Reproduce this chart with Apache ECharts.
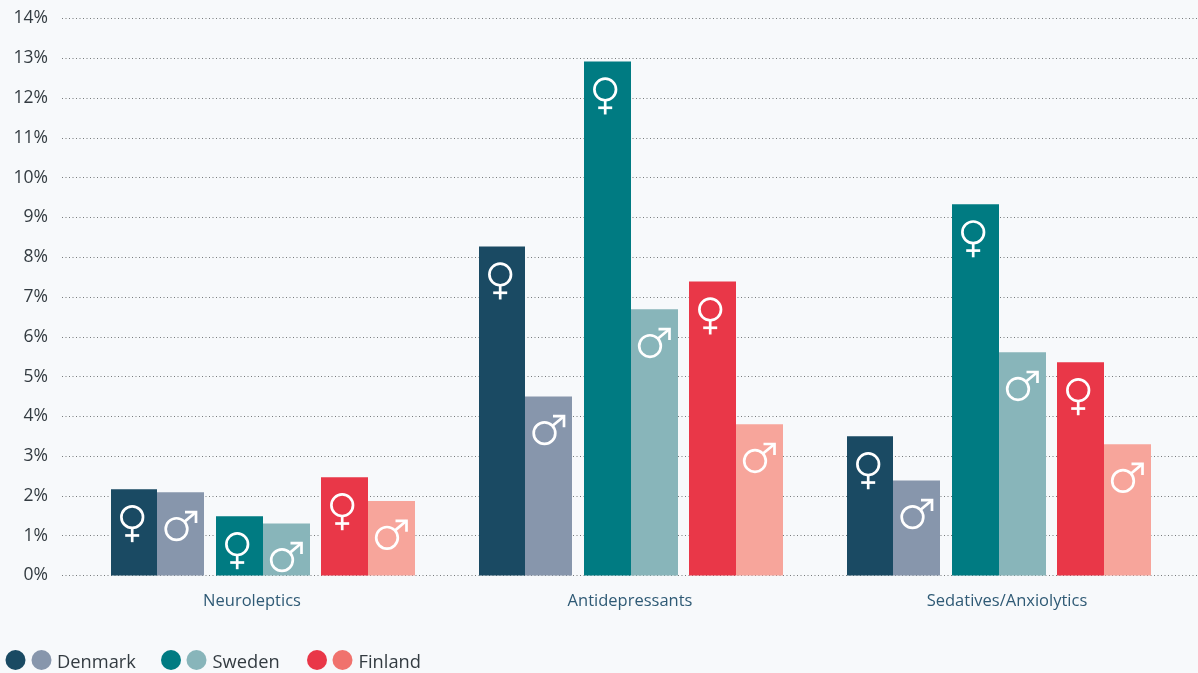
<!DOCTYPE html>
<html><head><meta charset="utf-8">
<style>html,body{margin:0;padding:0;background:#f7f9fb}#c{width:1198px;height:673px}</style>
<script src="https://cdn.jsdelivr.net/npm/echarts@6/dist/echarts.min.js"></script></head>
<body><div id="c"></div><script>
const categories = ['Neuroleptics','Antidepressants','Sedatives/Anxiolytics'];
const denmarkFemale = [2.17, 8.27, 3.5];
const denmarkMale = [2.09, 4.5, 2.39];
const swedenFemale = [1.49, 12.92, 9.33];
const swedenMale = [1.31, 6.69, 5.61];
const finlandFemale = [2.47, 7.39, 5.36];
const finlandMale = [1.87, 3.8, 3.3];
const yTicks = [0,1,2,3,4,5,6,7,8,9,10,11,12,13,14];
const countries = ['Denmark','Sweden','Finland'];

const font = '"Open Sans", "Noto Sans", sans-serif';
const colors = ['#1a4a63','#8796ac','#007b82','#88b5ba','#e93748','#f7a59b'];
const legendColors = ['#1a4a63','#8796ac','#007b82','#88b5ba','#e93748','#f0726d'];
const barW = 47;
const rows = [denmarkFemale, denmarkMale, swedenFemale, swedenMale, finlandFemale, finlandMale];
const offsets = [-129, -82.5, -24, 23, 81, 128];

function bar(name, data, i, w){
  return {type:'bar', name, data, xAxisIndex:1, yAxisIndex:1, barWidth:w || barW, barGap:0,
    itemStyle:{color:colors[i]}, silent:true, z:2};
}
function spacer(w){
  return {type:'bar', data:[null,null,null], xAxisIndex:1, yAxisIndex:1, barWidth:w, barGap:0, silent:true};
}
function iconSeries(data, i){
  const female = i % 2 === 0;
  return {type:'custom', xAxisIndex:1, yAxisIndex:1, z:5, silent:true, clip:false,
    encode:{x:0,y:1},
    data:data.map((v,k)=>[k,v]),
    renderItem(params, api){
      const p = api.coord([api.value(0), api.value(1)]);
      const x = p[0] + offsets[i], y = p[1];
      const st = {stroke:'#fff', lineWidth:2.7, fill:null};
      const line = (a,b,c,d)=>({type:'line', shape:{x1:a,y1:b,x2:c,y2:d}, style:st});
      if (female) {
        const cx = x - 1.8, cy = y + 28;
        return {type:'group', children:[
          {type:'circle', shape:{cx, cy, r:10.8}, style:st},
          line(cx, cy+10.8, cx, cy+25),
          line(cx-7, cy+18.3, cx+7, cy+18.3)
        ]};
      }
      const cx = x - 4, cy = y + 36.7;
      const tx = cx + 19.5, ty = cy - 17;
      return {type:'group', children:[
        {type:'circle', shape:{cx, cy, r:10.8}, style:st},
        line(cx+7.8, cy-7.2, tx, ty),
        {type:'polyline', shape:{points:[[tx-11,ty],[tx,ty],[tx,ty+11]]}, style:st}
      ]};
    }
  };
}

const series = [
  bar('Denmark female', denmarkFemale, 0, 46), bar('Denmark male', denmarkMale, 1), spacer(12),
  bar('Sweden female', swedenFemale, 2), bar('Sweden male', swedenMale, 3), spacer(11),
  bar('Finland female', finlandFemale, 4), bar('Finland male', finlandMale, 5),
  ...rows.map(iconSeries)
];

const legendX = [[15.5,41.5,57],[171,196.5,212.5],[317,342.5,358.5]];
const graphic = [];
countries.forEach((c,i)=>{
  const [a,b,t] = legendX[i];
  graphic.push({type:'circle', shape:{cx:a,cy:660,r:10}, style:{fill:legendColors[i*2]}});
  graphic.push({type:'circle', shape:{cx:b,cy:660,r:10}, style:{fill:legendColors[i*2+1]}});
  graphic.push({type:'text', x:t, y:662.5, style:{text:c, font:'18.3px '+font, fill:'#333b41', textVerticalAlign:'middle'}});
});

const chart = echarts.init(document.getElementById('c'), null, {renderer:'canvas'});
chart.setOption({
  animation:false,
  backgroundColor:'#f7f9fb',
  grid:[
    {left:62, right:0, top:18.5, height:557},
    {left:79, width:1104, top:18.5, height:557}
  ],
  xAxis:[
    {type:'category', gridIndex:0, data:categories, show:false},
    {type:'category', gridIndex:1, data:categories,
      axisLine:{show:false}, axisTick:{show:false}, splitLine:{show:false},
      axisLabel:{color:'#2f5a75', fontFamily:font, fontSize:16.5, margin:17,
        formatter:(v,i)=>'{l'+i+'|'+v+'}',
        rich:{
          l0:{color:'#2f5a75', fontFamily:font, fontSize:16.5, padding:[0,22,0,0]},
          l1:{color:'#2f5a75', fontFamily:font, fontSize:16.5, padding:[0,2,0,0]},
          l2:{color:'#2f5a75', fontFamily:font, fontSize:16.5, padding:[0,0,0,16]}
        }}}
  ],
  yAxis:[
    {type:'value', gridIndex:0, min:0, max:14, interval:1,
      axisLine:{show:false}, axisTick:{show:false},
      axisLabel:{color:'#333b41', fontFamily:font, fontSize:17.5, margin:14, formatter:v=>yTicks[v]+'%', verticalAlign:'middle', padding:[0,0,4,0]},
      splitLine:{show:true, lineStyle:{color:'#777b7c', width:1, type:[1,2.5]}}},
    {type:'value', gridIndex:1, min:0, max:14, interval:1, show:false, splitLine:{show:false}}
  ],
  graphic,
  series
});
</script></body></html>
